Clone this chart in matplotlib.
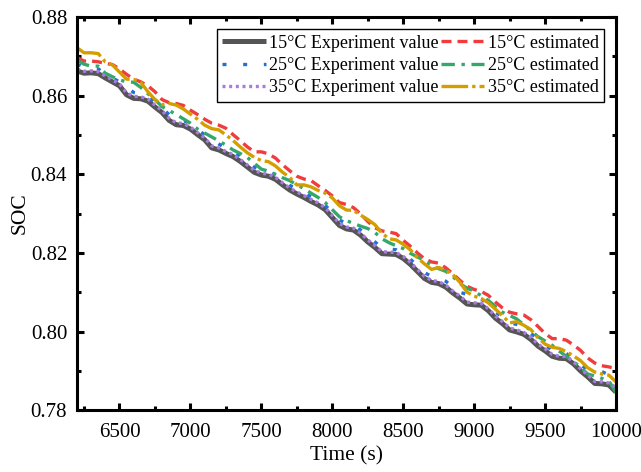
import numpy as np
import matplotlib
matplotlib.use("Agg")
import matplotlib.pyplot as plt
from matplotlib.ticker import MultipleLocator, FormatStrFormatter

plt.rcParams['font.family'] = ['Liberation Serif', 'DejaVu Serif']
plt.rcParams['mathtext.fontset'] = 'stix'

# time grid (s)
time = np.arange(6200, 10001, 50)

# SOC curves (one value every 50 s)
exp_15 = [0.8663, 0.8657, 0.8658, 0.8656, 0.8645, 0.8635, 0.8625, 0.8602, 0.8593, 0.8592,
          0.8586, 0.8571, 0.8557, 0.8537, 0.8526, 0.8524, 0.8515, 0.8501, 0.8488, 0.8467,
          0.8462, 0.8453, 0.8445, 0.8433, 0.8419, 0.8405, 0.8398, 0.8395, 0.8387, 0.8373,
          0.8360, 0.8350, 0.8341, 0.8331, 0.8322, 0.8310, 0.8290, 0.8270, 0.8261, 0.8258,
          0.8245, 0.8228, 0.8214, 0.8198, 0.8197, 0.8196, 0.8186, 0.8171, 0.8153, 0.8135,
          0.8125, 0.8122, 0.8113, 0.8098, 0.8085, 0.8070, 0.8068, 0.8067, 0.8053, 0.8034,
          0.8020, 0.8004, 0.7999, 0.7993, 0.7980, 0.7963, 0.7951, 0.7937, 0.7932, 0.7931,
          0.7918, 0.7900, 0.7885, 0.7868, 0.7867, 0.7864, 0.7846]
est_15 = [0.8697, 0.8688, 0.8688, 0.8686, 0.8682, 0.8679, 0.8668, 0.8654, 0.8642, 0.8635,
          0.8625, 0.8610, 0.8590, 0.8582, 0.8580, 0.8575, 0.8563, 0.8552, 0.8540, 0.8530,
          0.8525, 0.8517, 0.8501, 0.8486, 0.8470, 0.8457, 0.8457, 0.8452, 0.8441, 0.8424,
          0.8409, 0.8395, 0.8388, 0.8384, 0.8371, 0.8359, 0.8345, 0.8328, 0.8323, 0.8315,
          0.8299, 0.8280, 0.8264, 0.8256, 0.8253, 0.8249, 0.8232, 0.8217, 0.8200, 0.8185,
          0.8177, 0.8174, 0.8162, 0.8147, 0.8130, 0.8115, 0.8107, 0.8102, 0.8092, 0.8075,
          0.8060, 0.8049, 0.8045, 0.8042, 0.8030, 0.8013, 0.7995, 0.7982, 0.7982, 0.7978,
          0.7966, 0.7952, 0.7933, 0.7920, 0.7913, 0.7910, 0.7906]
exp_25 = [0.8680, 0.8672, 0.8670, 0.8668, 0.8655, 0.8645, 0.8635, 0.8622, 0.8608, 0.8605,
          0.8598, 0.8583, 0.8568, 0.8552, 0.8541, 0.8537, 0.8528, 0.8515, 0.8500, 0.8490,
          0.8477, 0.8466, 0.8458, 0.8446, 0.8432, 0.8418, 0.8410, 0.8406, 0.8398, 0.8385,
          0.8372, 0.8362, 0.8353, 0.8343, 0.8333, 0.8321, 0.8303, 0.8284, 0.8274, 0.8270,
          0.8258, 0.8242, 0.8228, 0.8214, 0.8210, 0.8208, 0.8198, 0.8184, 0.8167, 0.8150,
          0.8140, 0.8136, 0.8128, 0.8113, 0.8100, 0.8094, 0.8090, 0.8083, 0.8068, 0.8050,
          0.8036, 0.8022, 0.8018, 0.8010, 0.7996, 0.7979, 0.7966, 0.7952, 0.7947, 0.7944,
          0.7932, 0.7915, 0.7903, 0.7900, 0.7898, 0.7890, 0.7860]
est_25 = [0.8690, 0.8680, 0.8675, 0.8675, 0.8657, 0.8648, 0.8640, 0.8635, 0.8634, 0.8621,
          0.8605, 0.8590, 0.8572, 0.8562, 0.8552, 0.8541, 0.8530, 0.8515, 0.8505, 0.8495,
          0.8485, 0.8474, 0.8462, 0.8453, 0.8443, 0.8428, 0.8413, 0.8408, 0.8400, 0.8391,
          0.8384, 0.8373, 0.8364, 0.8352, 0.8341, 0.8328, 0.8310, 0.8292, 0.8282, 0.8275,
          0.8268, 0.8262, 0.8252, 0.8236, 0.8226, 0.8218, 0.8211, 0.8199, 0.8190, 0.8180,
          0.8168, 0.8160, 0.8153, 0.8140, 0.8122, 0.8110, 0.8103, 0.8091, 0.8079, 0.8064,
          0.8049, 0.8041, 0.8032, 0.8017, 0.8002, 0.7987, 0.7976, 0.7965, 0.7950, 0.7937,
          0.7924, 0.7909, 0.7892, 0.7887, 0.7881, 0.7874, 0.7845]
exp_35 = [0.8668, 0.8662, 0.8663, 0.8661, 0.8650, 0.8640, 0.8630, 0.8607, 0.8598, 0.8597,
          0.8591, 0.8576, 0.8562, 0.8542, 0.8531, 0.8529, 0.8520, 0.8506, 0.8493, 0.8472,
          0.8467, 0.8458, 0.8450, 0.8438, 0.8424, 0.8410, 0.8403, 0.8400, 0.8392, 0.8378,
          0.8365, 0.8355, 0.8346, 0.8336, 0.8327, 0.8315, 0.8295, 0.8275, 0.8266, 0.8263,
          0.8250, 0.8233, 0.8219, 0.8203, 0.8202, 0.8201, 0.8191, 0.8176, 0.8158, 0.8140,
          0.8130, 0.8127, 0.8118, 0.8103, 0.8090, 0.8075, 0.8073, 0.8072, 0.8058, 0.8039,
          0.8025, 0.8009, 0.8004, 0.7998, 0.7985, 0.7968, 0.7956, 0.7942, 0.7937, 0.7936,
          0.7923, 0.7905, 0.7890, 0.7873, 0.7872, 0.7869, 0.7858]
est_35 = [0.8722, 0.8709, 0.8709, 0.8707, 0.8686, 0.8678, 0.8660, 0.8642, 0.8641, 0.8634,
          0.8610, 0.8590, 0.8577, 0.8580, 0.8576, 0.8566, 0.8553, 0.8540, 0.8525, 0.8516,
          0.8513, 0.8500, 0.8486, 0.8470, 0.8455, 0.8443, 0.8435, 0.8432, 0.8421, 0.8405,
          0.8392, 0.8373, 0.8373, 0.8368, 0.8359, 0.8352, 0.8340, 0.8320, 0.8309, 0.8308,
          0.8296, 0.8285, 0.8272, 0.8250, 0.8236, 0.8233, 0.8222, 0.8208, 0.8188, 0.8172,
          0.8158, 0.8163, 0.8156, 0.8145, 0.8125, 0.8100, 0.8090, 0.8084, 0.8073, 0.8057,
          0.8040, 0.8022, 0.8025, 0.8016, 0.8005, 0.7984, 0.7968, 0.7960, 0.7957, 0.7949,
          0.7938, 0.7926, 0.7908, 0.7897, 0.7892, 0.7889, 0.7872]

fig = plt.figure(figsize=(6.41, 4.72), dpi=100)
ax = fig.add_axes([0.120, 0.131, 0.841, 0.833])

lw = 2.4
l1, = ax.plot(time, exp_15, color='#555555', lw=3.6, solid_capstyle='butt',
              label='15°C Experiment value')
l2, = ax.plot(time, est_15, color='#f03c3c', lw=lw, dashes=(3, 1.8),
              label='15°C estimated')
l3, = ax.plot(time, exp_25, color='#2070d8', lw=lw, dashes=(1.2, 5),
              label='25°C Experiment value')
l4, = ax.plot(time, est_25, color='#34a86a', lw=lw, dashes=(4, 2, 1, 2),
              label='25°C estimated')
l5, = ax.plot(time, exp_35, color='#a97be0', lw=lw, dashes=(0.9, 1.1),
              label='35°C Experiment value')
l6, = ax.plot(time, est_35, color='#d49e00', lw=lw, dashes=(8, 1.2, 1, 1.2),
              label='35°C estimated')

ax.set_xlim(6200, 10000)
ax.set_ylim(0.78, 0.88)
ax.xaxis.set_major_locator(MultipleLocator(500))
ax.xaxis.set_minor_locator(MultipleLocator(250))
ax.yaxis.set_major_locator(MultipleLocator(0.02))
ax.yaxis.set_minor_locator(MultipleLocator(0.01))
ax.yaxis.set_major_formatter(FormatStrFormatter('%.2f'))

for s in ax.spines.values():
    s.set_linewidth(2.2)
ax.tick_params(which='both', direction='in', top=True, right=True, labelsize=15, width=2.2)
ax.tick_params(which='major', length=5)
ax.tick_params(which='minor', length=3)
ax.tick_params(axis='x', which='major', pad=9)
ax.tick_params(axis='y', which='major', pad=7)

ax.set_xlabel('Time (s)', fontsize=15.5, labelpad=3)
ax.set_ylabel('SOC', fontsize=15.5, labelpad=1)

leg = ax.legend(handles=[l1, l3, l5, l2, l4, l6], ncol=2, loc='upper right',
                bbox_to_anchor=(0.978, 0.969), borderaxespad=0, fontsize=13,
                fancybox=False, edgecolor='black', framealpha=1,
                handlelength=2.4, handletextpad=0.2, columnspacing=0.1,
                labelspacing=0.3, borderpad=0.3)
leg.get_frame().set_linewidth(1.0)

fig.savefig('out.png', dpi=100)
